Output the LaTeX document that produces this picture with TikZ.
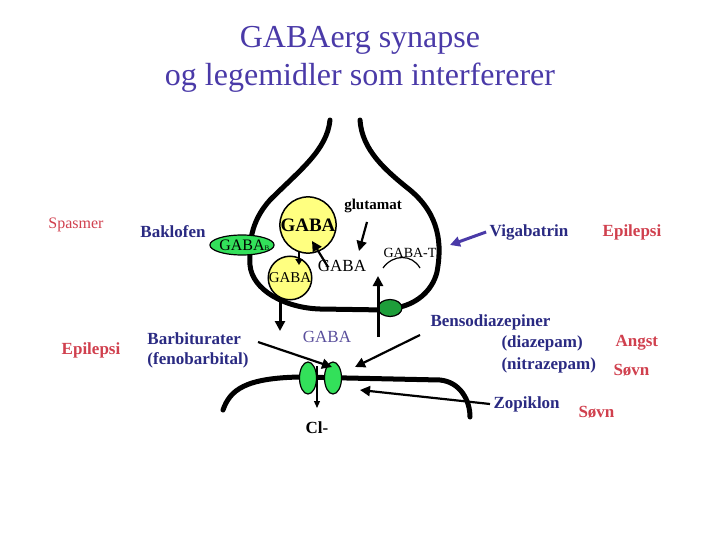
\documentclass[tikz,border=0pt]{standalone}
\usepackage{fontspec}
\setmainfont{Liberation Serif}
\usetikzlibrary{arrows.meta,shapes.geometric}
\definecolor{titleblue}{HTML}{4A3AA8}
\definecolor{drugblue}{HTML}{2A2A82}
\definecolor{effred}{HTML}{D0404E}
\definecolor{vesicle}{HTML}{FFFF80}
\definecolor{lightgreen}{HTML}{33E05A}
\definecolor{darkgreen}{HTML}{1E9E3A}
\begin{document}
\begin{tikzpicture}[x=1pt,y=-1pt,
membrane/.style={line width=5pt,line cap=round},
arr/.style={line width=3pt,-{Triangle[length=10pt,width=10pt]}},
thinarr/.style={line width=1.2pt,-{Triangle[length=7pt,width=6pt]}},
drug/.style={text=drugblue,font=\bfseries\fontsize{17}{20}\selectfont,align=center},
effect/.style={text=effred,font=\bfseries\fontsize{17}{20}\selectfont},
lbl/.style={font=\fontsize{17}{20}\selectfont}]
\useasboundingbox (0,0) rectangle (720,540);
% title
\node[text=titleblue,font=\fontsize{32}{38}\selectfont,align=center] (title) at (360,59)
 {GABAerg synapse\\og legemidler som interfererer};
% presynaptic terminal
\draw[membrane] (330,120) .. controls (327,150) and (300,170) .. (270,200)
 .. controls (250,222) and (249,245) .. (250,265)
 .. controls (252,290) and (285,308) .. (320,309) -- (385,310);
\draw[membrane] (360,120) .. controls (362,150) and (385,170) .. (410,190)
 .. controls (440,215) and (442,245) .. (437,272)
 .. controls (432,292) and (415,305) .. (395,308);
% postsynaptic membrane
\draw[membrane] (223,410) .. controls (230,390) and (245,378) .. (300,377)
 -- (440,380) .. controls (460,382) and (470,400) .. (470,417);
% vesicles and receptors
\node[circle,draw,line width=1.5pt,fill=vesicle,minimum size=46pt,inner sep=0pt,
 font=\bfseries\fontsize{19}{21}\selectfont] (gabaves) at (308,225) {GABA};
\node[circle,draw,line width=1.5pt,fill=vesicle,minimum size=32pt,inner sep=0pt,
 font=\fontsize{15}{17}\selectfont] (gabasmall) at (290,278) {GABA};
\node[ellipse,draw,line width=1.2pt,fill=lightgreen,minimum width=40pt,minimum height=20pt,
 inner sep=0pt,font=\fontsize{16}{18}\selectfont] (gabab) at (242,245) {GABA\rlap{\scriptsize B}};
\node[ellipse,draw,line width=1.2pt,fill=darkgreen,minimum width=24pt,minimum height=17pt] (uptake) at (390,308) {};
\node[ellipse,draw,line width=1.2pt,fill=lightgreen,minimum width=17pt,minimum height=32pt] (chanl) at (308,378) {};
\node[ellipse,draw,line width=1.2pt,fill=lightgreen,minimum width=17pt,minimum height=32pt] (chanr) at (333,378) {};
% texts in the terminal
\node[font=\bfseries\fontsize{15}{17}\selectfont] (glut) at (373,206) {glutamat};
\node[lbl] (gabafree) at (342,266) {GABA};
\node[font=\fontsize{14}{16}\selectfont] (gabat) at (410,253) {GABA-T};
\draw[line width=1.2pt] (383,268) .. controls (393,254) and (412,254) .. (420,268);
\node[text=titleblue!70!gray,lbl] (gabacleft) at (327,337) {GABA};
\node[font=\bfseries\fontsize{17}{20}\selectfont] (cl) at (317,428) {Cl-};
% coordinates for arrows
\coordinate (a1) at (367,222); \coordinate (a2) at (359,251);
\coordinate (b1) at (328,267); \coordinate (b2) at (312,241);
\coordinate (c1) at (299,252); \coordinate (c2) at (299,265);
\coordinate (d1) at (280,300); \coordinate (d2) at (280,331);
\coordinate (e1) at (378,337); \coordinate (e2) at (378,276);
\coordinate (f1) at (317,366); \coordinate (f2) at (317,408);
\coordinate (g1) at (258,342); \coordinate (g2) at (332,367);
\coordinate (h1) at (420,335); \coordinate (h2) at (355,367);
\coordinate (z2) at (360,390);
\coordinate (v2) at (450,245);
% labels
\node[effect,font=\fontsize{16}{18}\selectfont] (spasmer) at (76,225) {Spasmer};
\node[drug] (baklofen) at (173,232) {Baklofen};
\node[effect] (epil1) at (91,350) {Epilepsi};
\node[drug,align=left] (barb) at (198,350) {Barbiturater\\(fenobarbital)};
\node[drug] (vigab) at (529,232) {Vigabatrin};
\node[effect] (epil2) at (632,232) {Epilepsi};
\node[drug,anchor=west] (benzo) at (427,322) {Bensodiazepiner};
\node[drug,anchor=west] (diaz) at (498,343) {(diazepam)};
\node[drug,anchor=west] (nitraz) at (498,365) {(nitrazepam)};
\node[effect,anchor=west] (angst) at (612,343) {Angst};
\node[effect,anchor=west] (sovn1) at (610,370) {Søvn};
\node[drug,anchor=west] (zopik) at (490,404) {Zopiklon};
\node[effect,anchor=west] (sovn2) at (575,412) {Søvn};
% arrows
\draw[arr,line width=2.2pt] (a1) -- (a2);
\draw[arr,line width=2.2pt] (b1) -- (b2);
\draw[arr,line width=2.2pt,-{Triangle[length=6pt,width=7pt]}] (c1) -- (c2);
\draw[arr] (d1) -- (d2);
\draw[arr] (e1) -- (e2);
\draw[thinarr] (f1) -- (f2);
\draw[arr,line width=2.2pt] (g1) -- (g2);
\draw[arr,line width=2.2pt] (h1) -- (h2);
\draw[arr,line width=2.2pt] (zopik.west) -- (z2);
\draw[arr,line width=3pt,titleblue] (vigab.west) -- (v2);
\end{tikzpicture}
\end{document}
